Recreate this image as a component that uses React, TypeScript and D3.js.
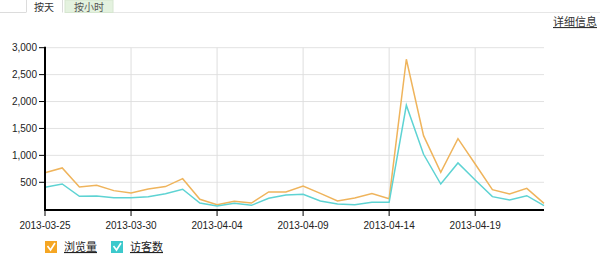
import React from "react";
import * as d3 from "d3";

const dates: string[] = [
  "2013-03-25","2013-03-26","2013-03-27","2013-03-28","2013-03-29","2013-03-30","2013-03-31",
  "2013-04-01","2013-04-02","2013-04-03","2013-04-04","2013-04-05","2013-04-06","2013-04-07",
  "2013-04-08","2013-04-09","2013-04-10","2013-04-11","2013-04-12","2013-04-13","2013-04-14",
  "2013-04-15","2013-04-16","2013-04-17","2013-04-18","2013-04-19","2013-04-20","2013-04-21",
  "2013-04-22","2013-04-23",
];
const pageViews: number[] = [
  678, 766, 413, 444, 345, 301, 375, 420, 567, 184, 84, 147, 115, 320, 320,
  431, 295, 152, 208, 289, 195, 2786, 1366, 686, 1311, 840, 363, 283, 388, 109,
];
const visitors: number[] = [
  407, 468, 240, 245, 214, 214, 232, 288, 370, 115, 60, 110, 72, 202, 264,
  277, 152, 97, 84, 128, 128, 1931, 1020, 468, 859, 543, 233, 171, 251, 65,
];
const yTicks: number[] = [500, 1000, 1500, 2000, 2500, 3000];
const xTickLabels: string[] = ["2013-03-25", "2013-03-30", "2013-04-04", "2013-04-09", "2013-04-14", "2013-04-19"];
const seriesNames: string[] = ["浏览量", "访客数"];
const tabLabels: string[] = ["按天", "按小时"];

const W = 600, H = 271;
const font = "'Liberation Sans', Arial, 'Noto Sans CJK SC', sans-serif";
const cjk = "'Noto Sans CJK SC', 'Liberation Sans', sans-serif";
const orange = "#efb45c";
const cyan = "#5ed3d3";

export default function App() {
  const parse = d3.timeParse("%Y-%m-%d");
  const dts = dates.map((d) => parse(d) as Date);
  const x = d3.scaleTime().domain([dts[0], dts[dts.length - 1]]).range([45, 544]);
  const y = d3.scaleLinear().domain([0, 3000]).range([209.2, 47.7]);
  const line = d3.line<number>().x((_, i) => x(dts[i])).y((v) => y(v));
  const colors = [orange, cyan];
  const series = [pageViews, visitors];

  return (
    <svg width={W} height={H} style={{ position: "absolute", left: 0, top: 0, background: "#fff" }}>
      {/* tabs */}
      <line x1={0} x2={26} y1={12.5} y2={12.5} stroke="#dcdcdc" />
      <line x1={113} x2={W} y1={12.5} y2={12.5} stroke="#e6e6e6" />
      <path d="M26.5,12.5 V0 M62.5,0 V12.5" stroke="#dcdcdc" fill="none" />
      <rect x={65} y={0} width={48} height={12.5} fill="#e4f2df" stroke="#d6e6d0" />
      <text x={44} y={10.5} textAnchor="middle" fontFamily={cjk} fontSize={10} fill="#333">{tabLabels[0]}</text>
      <text x={89} y={10.5} textAnchor="middle" fontFamily={cjk} fontSize={10} fill="#555">{tabLabels[1]}</text>
      <text x={597} y={26} textAnchor="end" fontFamily={cjk} fontSize={11} fill="#333" textDecoration="underline">详细信息</text>

      {/* grid */}
      {yTicks.map((t) => (
        <line key={"gy" + t} x1={45} x2={544} y1={y(t)} y2={y(t)} stroke="#e2e2e2" />
      ))}
      {xTickLabels.map((l) => {
        const xv = x(parse(l) as Date);
        return <line key={"gx" + l} x1={xv} x2={xv} y1={y(3000)} y2={y(0)} stroke="#dedede" />;
      })}

      {/* lines */}
      {series.map((s, i) => (
        <path key={"s" + i} d={line(s) || ""} fill="none" stroke={colors[i]} strokeWidth={1.5} />
      ))}

      {/* axes */}
      <line x1={45} x2={45} y1={y(3000) - 1} y2={210.5} stroke="#000" strokeWidth={2} />
      <line x1={44} x2={544} y1={210} y2={210} stroke="#000" strokeWidth={2} />
      {yTicks.map((t) => (
        <g key={"yt" + t}>
          <line x1={39} x2={45} y1={y(t)} y2={y(t)} stroke="#000" />
          <text x={37} y={y(t) + 3.5} textAnchor="end" fontFamily={font} fontSize={10} fill="#222">
            {d3.format(",")(t)}
          </text>
        </g>
      ))}
      {xTickLabels.map((l) => {
        const xv = x(parse(l) as Date);
        return (
          <g key={"xt" + l}>
            <line x1={xv} x2={xv} y1={210} y2={216} stroke="#000" />
            <text x={xv} y={229} textAnchor="middle" fontFamily={font} fontSize={10} fill="#222">{l}</text>
          </g>
        );
      })}

      {/* legend */}
      {seriesNames.map((n, i) => {
        const lx = 45 + i * 66;
        return (
          <g key={"lg" + i}>
            <rect x={lx} y={241} width={12} height={12} fill={i === 0 ? "#f5a623" : "#3cc9cc"} />
            <path d={`M${lx + 2.5},${246} L${lx + 5.5},${250} L${lx + 10},${243}`} stroke="#fff" strokeWidth={1.6} fill="none" />
            <text x={lx + 19} y={251} fontFamily={cjk} fontSize={11} fill="#222" textDecoration="underline">{n}</text>
          </g>
        );
      })}
    </svg>
  );
}
